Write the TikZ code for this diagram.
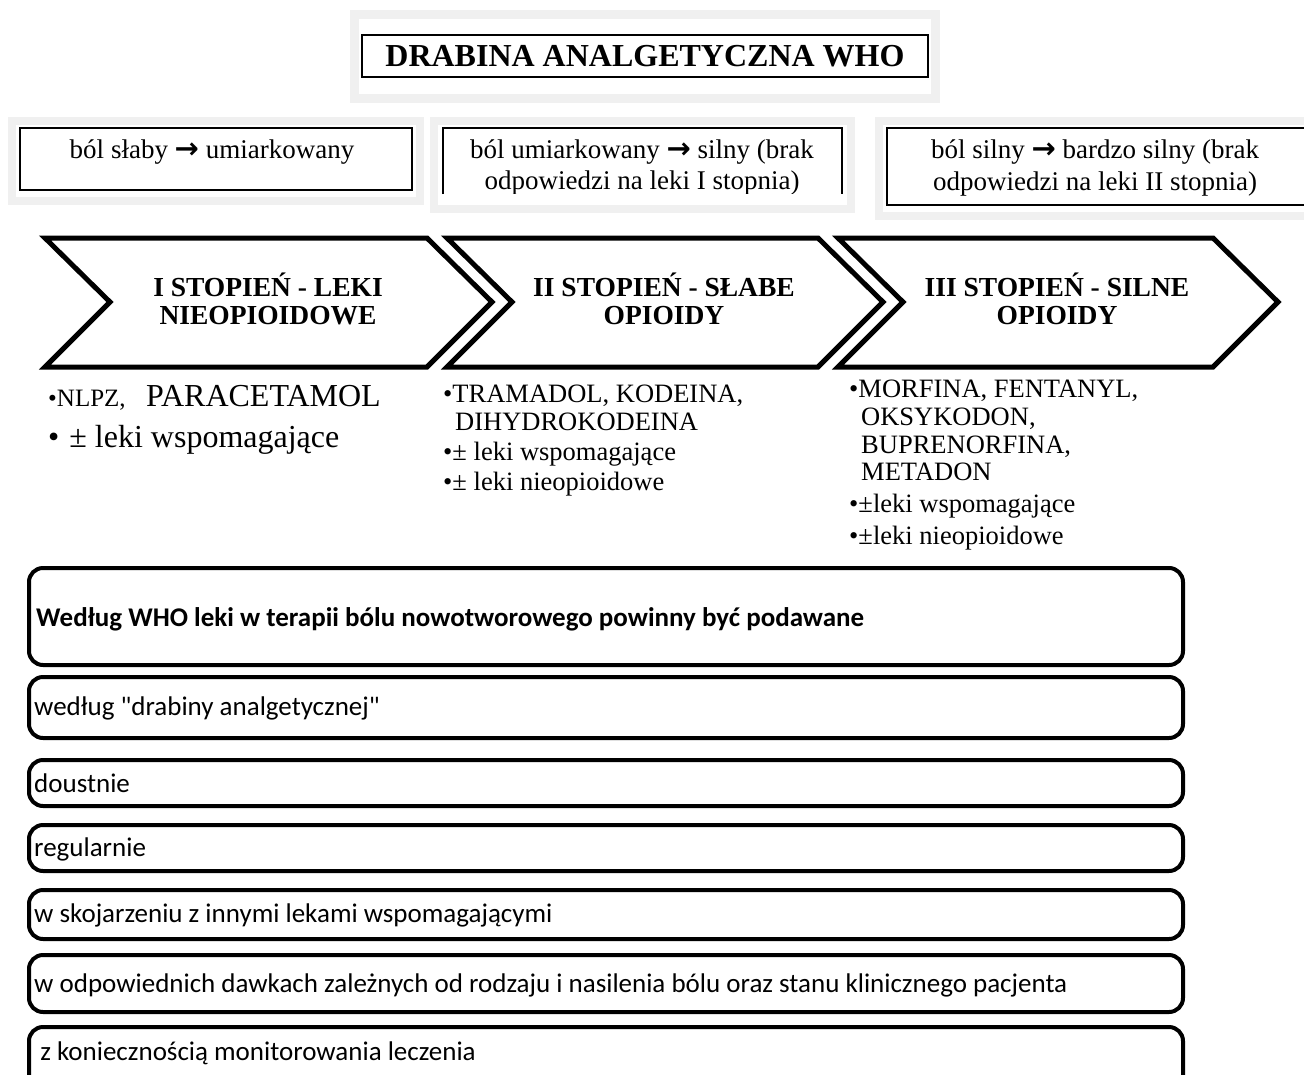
\documentclass[tikz,border=0pt]{standalone}
\usepackage{fontspec}
\setmainfont{Liberation Serif}
\newfontfamily\calfont{Carlito}
\newfontfamily\dvfont{DejaVu Sans}
\newcommand{\rarr}{{\dvfont\bfseries\fontsize{29}{29}\selectfont →}}
\begin{document}
\begin{tikzpicture}[x=1pt,y=-1pt,
  grayframe/.style={draw=black!6, line width=8.5pt},
  thinbox/.style={draw=black, line width=2.2pt},
  chev/.style={draw=black, line width=5pt, line join=miter, miter limit=20},
  chevtext/.style={font=\bfseries\fontsize{27.5}{27.5}\selectfont, align=center, inner sep=0pt},
  toptext/.style={font=\fontsize{27}{30}\selectfont, inner sep=0pt, anchor=base},
  listtext/.style={font=\fontsize{26.5}{28}\selectfont, inner sep=0pt, anchor=base west},
  rbox/.style={draw=black, line width=4pt, rounded corners=14pt},
  btext/.style={font=\calfont\fontsize{27}{28}\selectfont, inner sep=0pt, anchor=base west},
]
\useasboundingbox (0,0) rectangle (1304,1074);

% ---------- title ----------
\draw[grayframe] (354.5,14.5) rectangle (935.5,98.5);
\node[thinbox, line width=2.6pt, minimum width=566pt, minimum height=42pt, inner sep=0pt,
      font=\bfseries\fontsize{32}{32}\selectfont] (title) at (645,56) {DRABINA ANALGETYCZNA WHO};

% ---------- top boxes ----------
\draw[grayframe] (12,121) rectangle (420,201);
\draw[thinbox] (20,128) rectangle (412,190);
\node[toptext] (p1) at (212,158) {ból słaby \rarr{} umiarkowany};

\draw[grayframe] (434,121) rectangle (851,209);
\draw[thinbox] (443,194) -- (443,128) -- (842,128) -- (842,194);
\begin{scope}
\clip (440,125) rectangle (846,193);
\node[toptext] (p2a) at (642,158) {ból umiarkowany \rarr{} silny (brak};
\node[toptext] (p2b) at (642,189) {odpowiedzi na leki I stopnia)};
\end{scope}

\draw[grayframe] (879,121) rectangle (1320,216);
\draw[thinbox] (1320,128) -- (887,128) -- (887,205) -- (1320,205);
\node[toptext] (p3a) at (1095,158) {ból silny \rarr{} bardzo silny (brak};
\node[toptext] (p3b) at (1095,190) {odpowiedzi na leki II stopnia)};

% ---------- chevrons ----------
\draw[chev] (45,238) -- (427,238) -- (492,302) -- (427,367) -- (45,367) -- (110,302) -- cycle;
\draw[chev] (447,238) -- (818,238) -- (883,302) -- (818,367) -- (447,367) -- (512,302) -- cycle;
\draw[chev] (838,238) -- (1213,238) -- (1278,302) -- (1213,367) -- (838,367) -- (903,302) -- cycle;
\node[chevtext] (c1) at (268,299) {I STOPIEŃ - LEKI\\NIEOPIOIDOWE};
\node[chevtext] (c2) at (664,299) {II STOPIEŃ - SŁABE\\OPIOIDY};
\node[chevtext] (c3) at (1057,299) {III STOPIEŃ - SILNE\\OPIOIDY};

% ---------- lists ----------
\node[listtext, font=\fontsize{25}{26}\selectfont] (l1a) at (48,406) {•NLPZ,};
\node[listtext, font=\fontsize{32}{34}\selectfont] (l1b) at (146,406) {PARACETAMOL};
\node[listtext, font=\fontsize{32}{34}\selectfont] (l1c) at (48,447) {•\hspace{10pt}± leki wspomagające};

\node[listtext] (l2a) at (443,402) {•TRAMADOL, KODEINA,};
\node[listtext] (l2b) at (455,430) {DIHYDROKODEINA};
\node[listtext] (l2c) at (443,460) {•± leki wspomagające};
\node[listtext] (l2d) at (443,490) {•± leki nieopioidowe};

\node[listtext] (l3a) at (849,397) {•MORFINA, FENTANYL,};
\node[listtext] (l3b) at (861,425) {OKSYKODON,};
\node[listtext] (l3c) at (861,453) {BUPRENORFINA,};
\node[listtext] (l3d) at (861,480) {METADON};
\node[listtext] (l3e) at (849,512) {•±leki wspomagające};
\node[listtext] (l3f) at (849,544) {•±leki nieopioidowe};

% ---------- bottom boxes ----------
\draw[rbox] (29,568) rectangle (1183,665);
\node[btext, font=\calfont\bfseries\fontsize{27}{28}\selectfont] (b1) at (36,626) {Według WHO leki w terapii bólu nowotworowego powinny być podawane};
\draw[rbox] (29,677) rectangle (1183,738);
\node[btext] (b2) at (34,715) {według "drabiny analgetycznej"};
\draw[rbox] (29,760) rectangle (1183,806);
\node[btext] (b3) at (34,792) {doustnie};
\draw[rbox] (29,825) rectangle (1183,871);
\node[btext] (b4) at (34,856) {regularnie};
\draw[rbox] (29,890) rectangle (1183,939);
\node[btext] (b5) at (34,922) {w skojarzeniu z innymi lekami wspomagającymi};
\draw[rbox] (29,955) rectangle (1183,1012);
\node[btext] (b6) at (34,992) {w odpowiednich dawkach zależnych od rodzaju i nasilenia bólu oraz stanu klinicznego pacjenta};
\draw[rbox] (29,1027) rectangle (1183,1100);
\node[btext] (b7) at (34,1060) {\ z koniecznością monitorowania leczenia};
\end{tikzpicture}
\end{document}
